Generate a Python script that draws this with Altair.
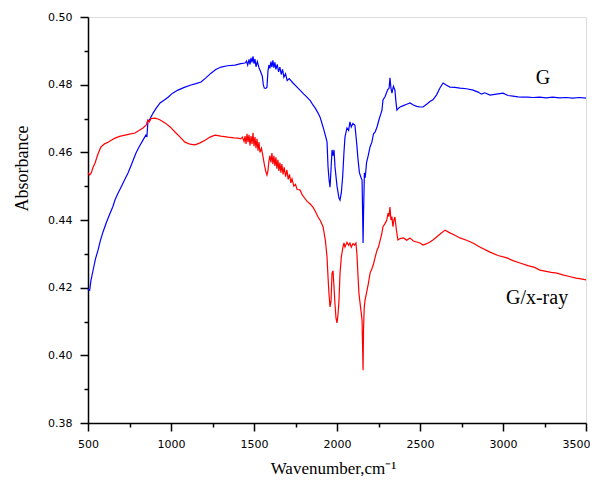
import altair as alt
import pandas as pd

# ---- Spectrum G (blue) ----
g_wn = [500, 510, 518, 530, 545, 560, 575, 590, 610, 633, 650, 663, 680, 699, 720, 741, 765, 789, 810, 831,
        849, 855, 861, 875, 892, 910, 934, 960, 982, 1010, 1042, 1080, 1120, 1150, 1181, 1210, 1241, 1270, 1301, 1340,
        1386, 1420, 1446, 1455, 1462, 1470, 1476, 1482, 1488, 1494, 1500, 1506, 1512, 1520, 1530, 1540, 1550, 1556, 1562, 1570,
        1578, 1584, 1590, 1596, 1602, 1608, 1614, 1620, 1626, 1632, 1640, 1648, 1656, 1664, 1672, 1680, 1690, 1700, 1712, 1735,
        1755, 1777, 1800, 1819, 1840, 1855, 1870, 1886, 1898, 1916, 1930, 1940, 1946, 1952, 1958, 1964, 1970, 1976, 1982, 1988,
        2000, 2012, 2018, 2026, 2034, 2042, 2048, 2060, 2070, 2078, 2086, 2096, 2108, 2118, 2127, 2135, 2145, 2151, 2155, 2157,
        2160, 2165, 2170, 2178, 2188, 2199, 2210, 2220, 2230, 2241, 2255, 2265, 2271, 2277, 2290, 2305, 2314, 2319, 2325, 2331,
        2340, 2349, 2355, 2361, 2370, 2380, 2400, 2420, 2440, 2460, 2480, 2500, 2518, 2540, 2560, 2578, 2600, 2620, 2639, 2660,
        2681, 2710, 2741, 2780, 2820, 2850, 2870, 2890, 2922, 2960, 3000, 3030, 3060, 3090, 3120, 3150, 3180, 3220, 3260, 3300,
        3340, 3380, 3420, 3460, 3500]
g_abs = [0.4195, 0.4192, 0.4222, 0.4250, 0.4285, 0.4310, 0.4340, 0.4364, 0.4392, 0.4420, 0.4440, 0.4460, 0.4478, 0.4497, 0.4518, 0.4539, 0.4568, 0.4598, 0.4618, 0.4636,
         0.4651, 0.4648, 0.4690, 0.4700, 0.4716, 0.4730, 0.4746, 0.4755, 0.4763, 0.4775, 0.4784, 0.4792, 0.4799, 0.4803, 0.4808, 0.4820, 0.4834, 0.4845, 0.4852, 0.4856,
         0.4858, 0.4862, 0.4864, 0.4870, 0.4858, 0.4875, 0.4860, 0.4879, 0.4866, 0.4884, 0.4862, 0.4876, 0.4853, 0.4868, 0.4850, 0.4838, 0.4825, 0.4800, 0.4790, 0.4789,
         0.4792, 0.4840, 0.4858, 0.4848, 0.4868, 0.4852, 0.4872, 0.4850, 0.4866, 0.4845, 0.4860, 0.4838, 0.4852, 0.4830, 0.4845, 0.4822, 0.4832, 0.4812, 0.4818, 0.4805,
         0.4795, 0.4784, 0.4772, 0.4763, 0.4752, 0.4740, 0.4730, 0.4716, 0.4704, 0.4675, 0.4650, 0.4630, 0.4557, 0.4520, 0.4497, 0.4550, 0.4607, 0.4590, 0.4607, 0.4557,
         0.4500, 0.4465, 0.4459, 0.4480, 0.4527, 0.4600, 0.4645, 0.4672, 0.4665, 0.4690, 0.4675, 0.4685, 0.4680, 0.4630, 0.4577, 0.4540, 0.4525, 0.4518, 0.4400, 0.4332,
         0.4420, 0.4539, 0.4525, 0.4570, 0.4590, 0.4616, 0.4630, 0.4655, 0.4660, 0.4675, 0.4700, 0.4715, 0.4725, 0.4755, 0.4765, 0.4785, 0.4790, 0.4820, 0.4790, 0.4775,
         0.4795, 0.4784, 0.4750, 0.4725, 0.4730, 0.4734, 0.4738, 0.4742, 0.4746, 0.4740, 0.4736, 0.4734, 0.4734, 0.4742, 0.4750, 0.4755, 0.4770, 0.4790, 0.4805, 0.4798,
         0.4793, 0.4792, 0.4790, 0.4788, 0.4784, 0.4778, 0.4772, 0.4776, 0.4769, 0.4772, 0.4775, 0.4768, 0.4766, 0.4764, 0.4763, 0.4763, 0.4762, 0.4763, 0.4761, 0.4763,
         0.4761, 0.4762, 0.4760, 0.4762, 0.4760]

# ---- Spectrum G/x-ray (red) ----
x_wn = [500, 510, 520, 530, 542, 560, 578, 600, 620, 640, 663, 690, 723, 750, 783, 810, 831, 850, 861, 870,
        880, 904, 930, 964, 995, 1024, 1055, 1084, 1115, 1145, 1175, 1205, 1235, 1265, 1300, 1343, 1380, 1404, 1420, 1430,
        1440, 1446, 1452, 1458, 1464, 1470, 1476, 1482, 1488, 1494, 1500, 1506, 1512, 1518, 1524, 1530, 1536, 1545, 1554, 1562,
        1570, 1578, 1584, 1590, 1596, 1602, 1608, 1614, 1620, 1626, 1632, 1638, 1644, 1650, 1656, 1662, 1668, 1675, 1682, 1690,
        1698, 1706, 1714, 1722, 1729, 1740, 1750, 1760, 1777, 1790, 1805, 1820, 1837, 1855, 1870, 1886, 1900, 1916, 1930, 1940,
        1946, 1952, 1958, 1964, 1970, 1976, 1982, 1988, 1994, 2000, 2006, 2012, 2018, 2026, 2036, 2042, 2048, 2060, 2070, 2078,
        2086, 2096, 2106, 2114, 2120, 2126, 2132, 2140, 2151, 2154, 2157, 2160, 2164, 2169, 2180, 2190, 2199, 2210, 2220, 2230,
        2241, 2250, 2260, 2270, 2277, 2290, 2300, 2307, 2313, 2319, 2325, 2331, 2337, 2343, 2349, 2358, 2367, 2380, 2400, 2420,
        2440, 2460, 2480, 2500, 2518, 2540, 2560, 2578, 2600, 2625, 2651, 2680, 2710, 2741, 2780, 2819, 2860, 2922, 2970, 3024,
        3060, 3102, 3150, 3190, 3222, 3260, 3290, 3325, 3360, 3400, 3440, 3470, 3500]
x_abs = [0.4539, 0.4533, 0.4540, 0.4555, 0.4568, 0.4595, 0.4616, 0.4625, 0.4630, 0.4636, 0.4642, 0.4647, 0.4651, 0.4654, 0.4657, 0.4665, 0.4672, 0.4680, 0.4696, 0.4690,
         0.4700, 0.4701, 0.4697, 0.4687, 0.4675, 0.4660, 0.4645, 0.4630, 0.4624, 0.4622, 0.4628, 0.4636, 0.4645, 0.4651, 0.4648, 0.4645, 0.4643, 0.4642, 0.4640, 0.4645,
         0.4632, 0.4648, 0.4625, 0.4655, 0.4630, 0.4652, 0.4620, 0.4648, 0.4625, 0.4658, 0.4618, 0.4645, 0.4612, 0.4640, 0.4605, 0.4630, 0.4600, 0.4612, 0.4588, 0.4565,
         0.4545, 0.4533, 0.4545, 0.4575, 0.4590, 0.4570, 0.4598, 0.4565, 0.4590, 0.4560, 0.4585, 0.4552, 0.4578, 0.4545, 0.4570, 0.4540, 0.4565, 0.4535, 0.4556, 0.4528,
         0.4548, 0.4520, 0.4535, 0.4510, 0.4522, 0.4500, 0.4505, 0.4490, 0.4489, 0.4475, 0.4465, 0.4455, 0.4448, 0.4438, 0.4425, 0.4409, 0.4398, 0.4380, 0.4340, 0.4290,
         0.4231, 0.4180, 0.4143, 0.4160, 0.4243, 0.4250, 0.4202, 0.4150, 0.4110, 0.4096, 0.4120, 0.4163, 0.4240, 0.4291, 0.4320, 0.4332, 0.4320, 0.4334, 0.4325, 0.4332,
         0.4320, 0.4330, 0.4326, 0.4332, 0.4300, 0.4240, 0.4184, 0.4150, 0.4104, 0.4030, 0.3956, 0.4080, 0.4140, 0.4163, 0.4190, 0.4215, 0.4243, 0.4255, 0.4270, 0.4290,
         0.4311, 0.4320, 0.4340, 0.4360, 0.4380, 0.4390, 0.4400, 0.4420, 0.4410, 0.4438, 0.4400, 0.4410, 0.4380, 0.4400, 0.4409, 0.4370, 0.4341, 0.4345, 0.4347, 0.4340,
         0.4347, 0.4338, 0.4335, 0.4332, 0.4326, 0.4330, 0.4335, 0.4341, 0.4350, 0.4360, 0.4370, 0.4362, 0.4355, 0.4347, 0.4340, 0.4332, 0.4320, 0.4305, 0.4295, 0.4288,
         0.4280, 0.4273, 0.4265, 0.4260, 0.4252, 0.4248, 0.4245, 0.4243, 0.4238, 0.4233, 0.4228, 0.4226, 0.4223]

# ---- curve labels ----
label_text = ["G", "G/x-ray"]
label_wn = [3241, 3205]
label_abs = [0.4820, 0.4169]

y_major = [0.38, 0.40, 0.42, 0.44, 0.46, 0.48, 0.50]
y_minor = [0.39, 0.41, 0.43, 0.45, 0.47, 0.49]
x_major = [500, 1000, 1500, 2000, 2500, 3000]
x_last = [3500]
x_minor = [750, 1250, 1750, 2250, 2750, 3250]

df = pd.concat([
    pd.DataFrame({"wn": g_wn, "abs": g_abs, "s": "G"}),
    pd.DataFrame({"wn": x_wn, "abs": x_abs, "s": "G/x-ray"}),
])
df["order"] = range(len(df))
labels = pd.DataFrame({"t": label_text, "wn": label_wn, "abs": label_abs})

xscale = alt.Scale(domain=[500, 3500], nice=False, zero=False)
yscale = alt.Scale(domain=[0.38, 0.50], nice=False, zero=False)

lab = dict(labelFont="DejaVu Sans", labelFontSize=11, labelColor="#000", labelFlush=False)
tit = dict(titleFont="Liberation Serif", titleFontWeight="normal", titleColor="#000",
           titleBaseline="alphabetic", titleAlign="center")
tk = dict(grid=False, ticks=True, tickColor="#000", tickWidth=1.5)

x_axis = alt.Axis(title="Wavenumber,cm\u207b\u00b9", values=x_major, orient="bottom", tickSize=8, format="d",
                  labelPadding=7, titleFontSize=17, titleX=245, titleY=50,
                  domainColor="#000", domainWidth=1.5, **lab, **tit, **tk)
y_axis = alt.Axis(title="Absorbance", values=y_major, orient="left", tickSize=8, format=".2f",
                  labelPadding=8, titleFontSize=18, titleX=-61, titleY=151, titleAngle=270,
                  domainColor="#000", domainWidth=1.5, **lab, **tit, **tk)
x_axis_minor = alt.Axis(title=None, values=x_minor, orient="bottom", tickSize=4, labels=False, domain=False, **tk)
y_axis_minor = alt.Axis(title=None, values=y_minor, orient="left", tickSize=4, labels=False, domain=False, **tk)
x_axis_last = alt.Axis(title=None, values=x_last, orient="bottom", tickSize=8, format="d", domain=False,
                       labelPadding=7, labelAlign="right", labelOffset=4, **lab, **tk)

lines = alt.Chart(df).mark_line(strokeWidth=1.2).encode(
    x=alt.X("wn:Q", scale=xscale, axis=x_axis),
    y=alt.Y("abs:Q", scale=yscale, axis=y_axis),
    color=alt.Color("s:N", scale=alt.Scale(domain=["G", "G/x-ray"], range=["#0000ff", "#ff0000"]), legend=None),
    order="order:Q",
)
texts = alt.Chart(labels).mark_text(font="Liberation Serif", fontSize=20, color="#000").encode(
    x=alt.X("wn:Q", scale=xscale, axis=x_axis_minor),
    y=alt.Y("abs:Q", scale=yscale, axis=y_axis_minor),
    text="t:N",
)
last_axis = alt.Chart(labels).mark_point(opacity=0).encode(
    x=alt.X("wn:Q", scale=xscale, axis=x_axis_last),
    y=alt.Y("abs:Q", scale=yscale, axis=None),
)

chart = alt.layer(lines, texts, last_axis).resolve_axis(x="independent", y="independent").properties(
    width=498, height=406,
    autosize=alt.AutoSizeParams(type="none"),
    padding={"left": 80, "top": 9, "right": 4, "bottom": 53},
).configure_view(stroke="#000", strokeWidth=1.5).configure(background="white")

chart.save("out.html", embed_options={"renderer": "svg", "actions": False})
